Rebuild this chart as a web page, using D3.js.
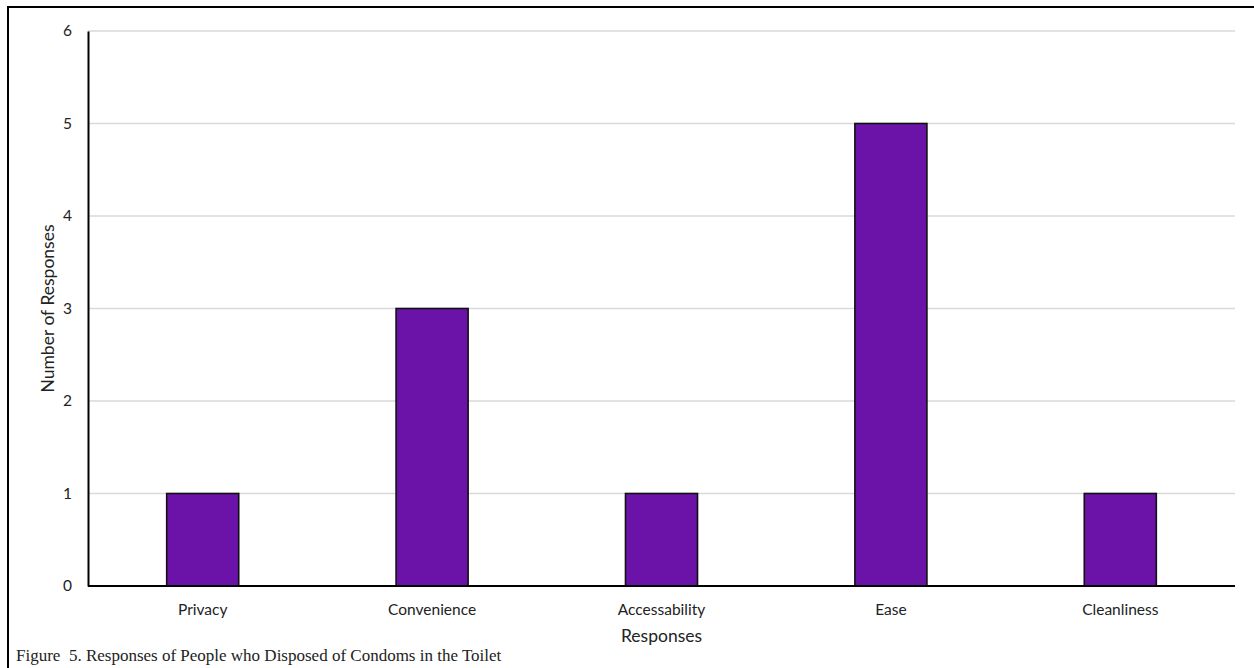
<!DOCTYPE html>
<html>
<head>
<meta charset="utf-8">
<script src="https://cdn.jsdelivr.net/npm/d3@7"></script>
<style>
  html, body { margin: 0; padding: 0; background: #fff; }
  svg { display: block; }
</style>
</head>
<body>
<svg id="chart" width="1254" height="668"></svg>
<script>
const categories = ["Privacy", "Convenience", "Accessability", "Ease", "Cleanliness"];
const responseCounts = [1, 3, 1, 5, 1];
const yTicks = [0, 1, 2, 3, 4, 5, 6];

const svg = d3.select("#chart");
const W = 1254, H = 668;
const plot = { left: 88, right: 1235, top: 31, bottom: 586 };

// outer frame: top and left edges
svg.append("line").attr("x1", 7).attr("x2", W).attr("y1", 7).attr("y2", 7)
  .attr("stroke", "#000").attr("stroke-width", 2);
svg.append("line").attr("x1", 8).attr("x2", 8).attr("y1", 6).attr("y2", H)
  .attr("stroke", "#000").attr("stroke-width", 2);

const x = d3.scaleBand().domain(categories).range([plot.left, plot.right])
  .paddingInner(0.686).paddingOuter(0.343);
const y = d3.scaleLinear().domain([0, 6]).range([plot.bottom, plot.top]);

const tickFont = "Lato, 'Open Sans', sans-serif";

// horizontal gridlines
svg.append("g").selectAll("line").data(yTicks.filter(d => d > 0)).join("line")
  .attr("x1", plot.left).attr("x2", plot.right)
  .attr("y1", d => y(d)).attr("y2", d => y(d))
  .attr("stroke", "#d9d9d9").attr("stroke-width", 1.3);

// bars
svg.append("g").selectAll("rect").data(categories).join("rect")
  .attr("x", d => x(d))
  .attr("y", (d, i) => y(responseCounts[i]))
  .attr("width", x.bandwidth())
  .attr("height", (d, i) => y(0) - y(responseCounts[i]))
  .attr("fill", "#6b13a8")
  .attr("stroke", "#111").attr("stroke-width", 1.6);

// y axis
const yAxis = svg.append("g").attr("transform", `translate(${plot.left},0)`)
  .call(d3.axisLeft(y).tickValues(yTicks).tickFormat(d3.format("d")).tickSize(0).tickPadding(16));
yAxis.select(".domain").attr("stroke", "#000").attr("stroke-width", 2);
yAxis.selectAll("text").attr("font-family", tickFont).attr("font-size", 15.5).attr("fill", "#222");

// x axis
const xAxis = svg.append("g").attr("transform", `translate(0,${plot.bottom})`)
  .call(d3.axisBottom(x).tickSize(0).tickPadding(18));
xAxis.select(".domain").attr("stroke", "#000").attr("stroke-width", 2)
  .attr("d", `M${plot.left},0H${plot.right}`);
xAxis.selectAll("text").attr("font-family", tickFont).attr("font-size", 15.5).attr("fill", "#222");

// axis titles
svg.append("text").attr("x", (plot.left + plot.right) / 2).attr("y", 642)
  .attr("text-anchor", "middle").attr("font-family", tickFont).attr("font-size", 17.5)
  .attr("fill", "#222").text("Responses");
svg.append("text").attr("transform", `translate(54,${(plot.top + plot.bottom) / 2}) rotate(-90)`)
  .attr("text-anchor", "middle").attr("font-family", tickFont).attr("font-size", 17.5)
  .attr("fill", "#222").text("Number of Responses");

// caption
svg.append("text").attr("x", 16).attr("y", 661)
  .attr("font-family", "'Liberation Serif', 'DejaVu Serif', serif").attr("font-size", 17)
  .attr("fill", "#222").attr("xml:space", "preserve")
  .text("Figure  5. Responses of People who Disposed of Condoms in the Toilet");
</script>
</body>
</html>
